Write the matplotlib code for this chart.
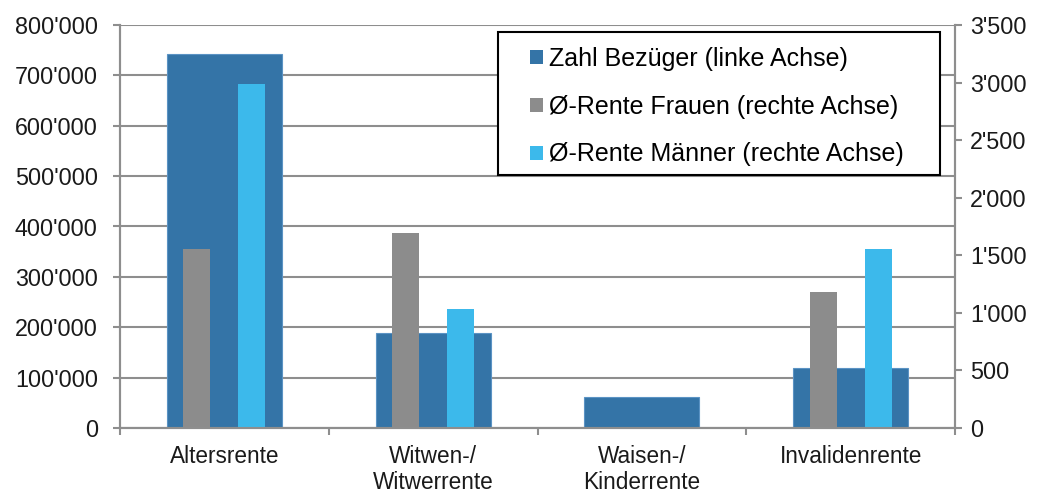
import numpy as np
import matplotlib
matplotlib.use("Agg")
import matplotlib.pyplot as plt
from matplotlib.ticker import FuncFormatter, MultipleLocator, FixedLocator
from matplotlib.patches import Patch, Rectangle

categories = ["Altersrente", "Witwen-/\nWitwerrente", "Waisen-/\nKinderrente", "Invalidenrente"]
zahl_bezueger = [742000, 188000, 61000, 120000]
rente_frauen = [1552, 1691, 0, 1184]
rente_maenner = [2988, 1031, 0, 1552]
legend_labels = ["Zahl Bezüger (linke Achse)", "Ø-Rente Frauen (rechte Achse)", "Ø-Rente Männer (rechte Achse)"]

c_blue = "#3474A7"
c_gray = "#8C8C8C"
c_light = "#3CB9EB"
grid_c = "#8E8E8E"

plt.rcParams["font.family"] = ["Liberation Sans", "DejaVu Sans"]

W, H = 1038, 495
fig = plt.figure(figsize=(W / 100, H / 100), dpi=100)
ax = fig.add_axes([120 / W, 1 - 428 / H, (955 - 120) / W, (428 - 25) / H])
ax2 = ax.twinx()

x = np.arange(len(categories))
ax.bar(x, zahl_bezueger, width=0.55, color=c_blue, edgecolor="#5B93C4", linewidth=0.8, zorder=2)
ax2.bar(x - 0.132, rente_frauen, width=0.13, color=c_gray, linewidth=0, zorder=2)
ax2.bar(x + 0.132, rente_maenner, width=0.13, color=c_light, linewidth=0, zorder=2)

ax.set_xlim(-0.5, len(categories) - 0.5)
ax.set_ylim(0, 800000)
ax2.set_ylim(0, 3500)
ax.yaxis.set_major_locator(MultipleLocator(100000))
ax2.yaxis.set_major_locator(MultipleLocator(500))
fmt = FuncFormatter(lambda v, p: f"{int(round(v)):,}".replace(",", "'"))
ax.yaxis.set_major_formatter(fmt)
ax2.yaxis.set_major_formatter(fmt)

ax.yaxis.grid(True, color=grid_c, linewidth=1.5, zorder=0)
ax.set_axisbelow(True)

for a in (ax, ax2):
    a.spines["top"].set_visible(False)
    for s in ("left", "right", "bottom"):
        a.spines[s].set_color(grid_c)
        a.spines[s].set_linewidth(1.5)

ax.set_xticks(x)
ax.set_xticklabels(categories, fontsize=16.3, color="#1a1a1a", linespacing=1.2)
ax.tick_params(axis="x", which="major", length=0, pad=12)
ax.xaxis.set_minor_locator(FixedLocator(np.arange(-0.5, len(categories), 1.0)))
ax.tick_params(axis="x", which="minor", length=5, width=1.5, color=grid_c, direction="out")

ax.tick_params(axis="y", length=5, width=1.5, color=grid_c, direction="out", pad=11, labelsize=16.8, labelcolor="#1a1a1a")
ax2.tick_params(axis="y", length=5, width=1.5, color=grid_c, direction="out", pad=6, labelsize=16.8, labelcolor="#1a1a1a")

# legend frame drawn separately for exact size
fig.patches.append(Rectangle((498 / W, 1 - 175 / H), (940 - 498) / W, (175 - 32) / H,
                             transform=fig.transFigure, facecolor="white", edgecolor="black",
                             linewidth=1.5, zorder=5))
handles = [Patch(facecolor=c, edgecolor="none") for c in (c_blue, c_gray, c_light)]
leg = fig.legend(handles, legend_labels, loc="upper left", bbox_to_anchor=(530 / W, 1 - 47 / H),
                 fontsize=18, frameon=False,
                 handlelength=0.5, handleheight=0.5, handletextpad=0.25, labelspacing=0.95,
                 borderpad=0, borderaxespad=0)
leg.set_zorder(6)

fig.savefig("out.png", dpi=100)
